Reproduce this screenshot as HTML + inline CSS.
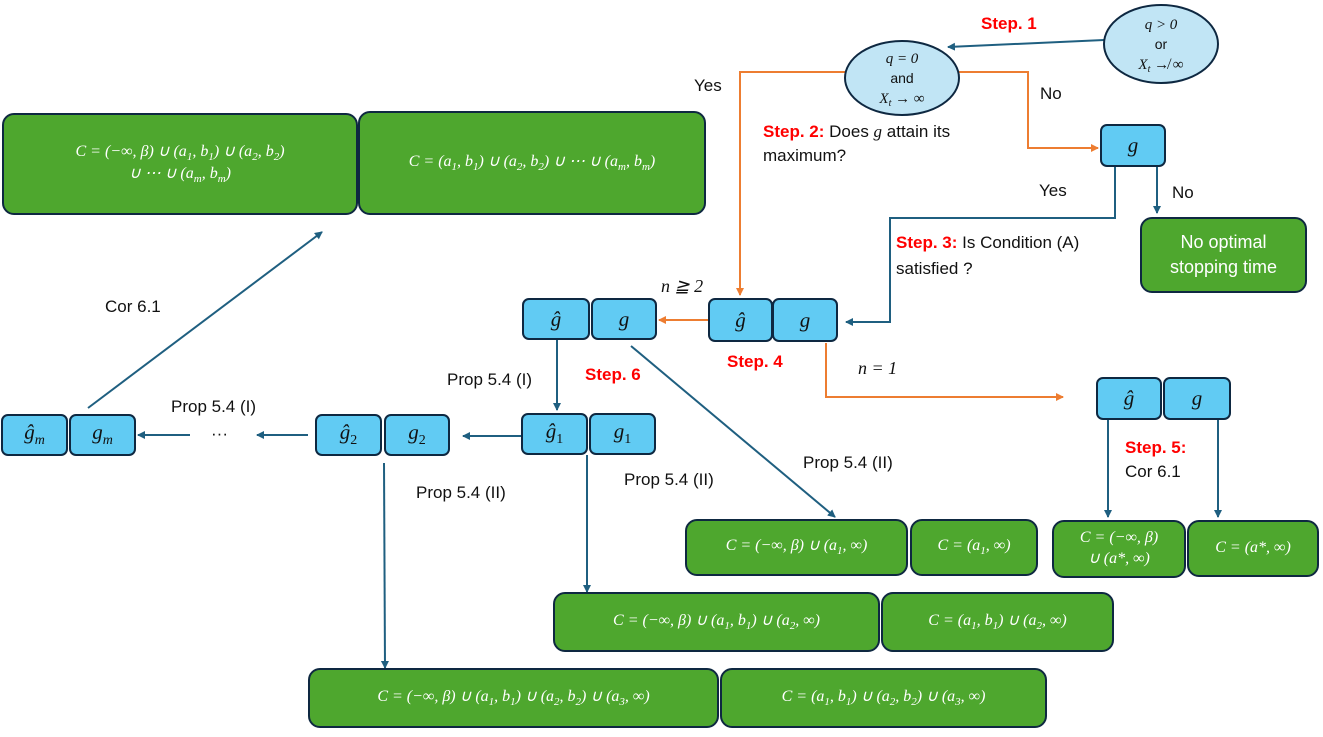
<!DOCTYPE html>
<html><head><meta charset="utf-8"><style>
body{margin:0;width:1323px;height:737px;background:#fff;position:relative;overflow:hidden;font-family:"Liberation Sans",sans-serif;}
.b{position:absolute;box-sizing:border-box;background:#61cbf3;border:2px solid #0e2841;border-radius:7px;display:flex;align-items:center;justify-content:center;font-family:"Liberation Serif",serif;font-style:italic;font-size:21px;color:#111;}
.gr{position:absolute;box-sizing:border-box;background:#4ea72e;border:2px solid #0e2841;border-radius:12px;display:flex;align-items:center;justify-content:center;text-align:center;color:#fff;font-family:"Liberation Serif",serif;font-style:italic;font-size:16px;line-height:1.3;}
sub{font-size:11px;}
.t{position:absolute;font-size:17px;color:#111;white-space:nowrap;}
.r{color:#f00;font-weight:bold;}
.m{font-family:"Liberation Serif",serif;font-style:italic;}
</style></head><body>
<svg width="1323" height="737" style="position:absolute;left:0;top:0">
<defs>
<marker id="ab" markerWidth="8" markerHeight="8" refX="7" refY="4" orient="auto" markerUnits="userSpaceOnUse"><path d="M0,0 L8,4 L0,8 z" fill="#1f5f80"/></marker>
<marker id="ao" markerWidth="8" markerHeight="8" refX="7" refY="4" orient="auto" markerUnits="userSpaceOnUse"><path d="M0,0 L8,4 L0,8 z" fill="#ed7d31"/></marker>
</defs>
<g fill="none" stroke="#1f5f80" stroke-width="2">
<path d="M1104,40 L948,47" marker-end="url(#ab)"/>
<path d="M1115,166 V218 H890 V322 H846" marker-end="url(#ab)"/>
<path d="M1157,166 V213" marker-end="url(#ab)"/>
<path d="M557,339 V410" marker-end="url(#ab)"/>
<path d="M631,346 L835,517" marker-end="url(#ab)"/>
<path d="M521,436 H463" marker-end="url(#ab)"/>
<path d="M308,435 H257" marker-end="url(#ab)"/>
<path d="M190,435 H138" marker-end="url(#ab)"/>
<path d="M88,408 L322,232" marker-end="url(#ab)"/>
<path d="M587,455 V592" marker-end="url(#ab)"/>
<path d="M384,463 L385,668" marker-end="url(#ab)"/>
<path d="M1108,420 V517" marker-end="url(#ab)"/>
<path d="M1218,420 V517" marker-end="url(#ab)"/>
</g>
<g fill="none" stroke="#ed7d31" stroke-width="2">
<path d="M845,72 H740 V295" marker-end="url(#ao)"/>
<path d="M959,72 H1028 V148 H1098" marker-end="url(#ao)"/>
<path d="M708,320 H659" marker-end="url(#ao)"/>
<path d="M826,343 V397 H1063" marker-end="url(#ao)"/>
</g>
<ellipse cx="1161" cy="44" rx="57" ry="39" fill="#c1e5f5" stroke="#0e2841" stroke-width="2"/>
<ellipse cx="902" cy="78" rx="57" ry="37" fill="#c1e5f5" stroke="#0e2841" stroke-width="2"/>
<g font-size="15" text-anchor="middle" fill="#111">
<text x="1161" y="29" font-family="Liberation Serif" font-style="italic">q &gt; 0</text>
<text x="1161" y="49" font-family="Liberation Sans" font-size="14">or</text>
<text x="1161" y="69" font-family="Liberation Serif" font-style="italic">X<tspan font-size="10" dy="3">t</tspan><tspan dy="-3"> ↛ ∞</tspan></text>
<text x="902" y="63" font-family="Liberation Serif" font-style="italic">q = 0</text>
<text x="902" y="83" font-family="Liberation Sans" font-size="14">and</text>
<text x="902" y="103" font-family="Liberation Serif" font-style="italic">X<tspan font-size="10" dy="3">t</tspan><tspan dy="-3"> → ∞</tspan></text>
</g>
</svg>

<div class="t r" style="left:981px;top:14px">Step. 1</div>
<div class="t" style="left:694px;top:76px">Yes</div>
<div class="t" style="left:1040px;top:84px">No</div>
<div class="t" style="left:763px;top:120px;line-height:24px"><span class="r">Step. 2:</span> Does <span class="m">g</span> attain its<br>maximum?</div>
<div class="t" style="left:1039px;top:181px">Yes</div>
<div class="t" style="left:1172px;top:183px">No</div>
<div class="t" style="left:896px;top:230px;line-height:26px"><span class="r">Step. 3:</span> Is Condition (A)<br>satisfied ?</div>
<div class="t m" style="left:661px;top:276px;font-size:18px">n ≧ 2</div>
<div class="t r" style="left:727px;top:352px">Step. 4</div>
<div class="t m" style="left:858px;top:358px;font-size:18px">n = 1</div>
<div class="t" style="left:105px;top:297px">Cor 6.1</div>
<div class="t" style="left:447px;top:370px">Prop 5.4 (I)</div>
<div class="t r" style="left:585px;top:365px">Step. 6</div>
<div class="t" style="left:171px;top:397px">Prop 5.4 (I)</div>
<div class="t" style="left:211px;top:424px">···</div>
<div class="t" style="left:803px;top:453px">Prop 5.4 (II)</div>
<div class="t" style="left:624px;top:470px">Prop 5.4 (II)</div>
<div class="t" style="left:416px;top:483px">Prop 5.4 (II)</div>
<div class="t" style="left:1125px;top:436px;line-height:24px"><span class="r">Step. 5:</span><br>Cor 6.1</div>

<div class="b" style="left:1100px;top:124px;width:66px;height:43px"><span>g</span></div>
<div class="gr" style="left:1140px;top:217px;width:167px;height:76px;font-family:'Liberation Sans',sans-serif;font-style:normal;font-size:18px;line-height:25px"><span>No optimal<br>stopping time</span></div>
<div class="gr" style="left:2px;top:113px;width:356px;height:102px"><span>C = (−∞, β) ∪ (a<sub>1</sub>, b<sub>1</sub>) ∪ (a<sub>2</sub>, b<sub>2</sub>)<br>∪ ⋯ ∪ (a<sub>m</sub>, b<sub>m</sub>)</span></div>
<div class="gr" style="left:358px;top:111px;width:348px;height:104px"><span>C = (a<sub>1</sub>, b<sub>1</sub>) ∪ (a<sub>2</sub>, b<sub>2</sub>) ∪ ⋯ ∪ (a<sub>m</sub>, b<sub>m</sub>)</span></div>

<div class="b" style="left:708px;top:298px;width:65px;height:44px"><span>ĝ</span></div>
<div class="b" style="left:772px;top:298px;width:66px;height:44px"><span>g</span></div>
<div class="b" style="left:522px;top:298px;width:68px;height:42px"><span>ĝ</span></div>
<div class="b" style="left:591px;top:298px;width:66px;height:42px"><span>g</span></div>
<div class="b" style="left:521px;top:413px;width:67px;height:42px"><span>ĝ<sub style="font-style:normal;font-size:14px">1</sub></span></div>
<div class="b" style="left:589px;top:413px;width:67px;height:42px"><span>g<sub style="font-style:normal;font-size:14px">1</sub></span></div>
<div class="b" style="left:315px;top:414px;width:67px;height:42px"><span>ĝ<sub style="font-style:normal;font-size:14px">2</sub></span></div>
<div class="b" style="left:384px;top:414px;width:66px;height:42px"><span>g<sub style="font-style:normal;font-size:14px">2</sub></span></div>
<div class="b" style="left:1px;top:414px;width:67px;height:42px"><span>ĝ<sub style="font-size:14px">m</sub></span></div>
<div class="b" style="left:69px;top:414px;width:67px;height:42px"><span>g<sub style="font-size:14px">m</sub></span></div>
<div class="b" style="left:1096px;top:377px;width:66px;height:43px"><span>ĝ</span></div>
<div class="b" style="left:1163px;top:377px;width:68px;height:43px"><span>g</span></div>

<div class="gr" style="left:685px;top:519px;width:223px;height:57px"><span>C = (−∞, β) ∪ (a<sub>1</sub>, ∞)</span></div>
<div class="gr" style="left:910px;top:519px;width:128px;height:57px"><span>C = (a<sub>1</sub>, ∞)</span></div>
<div class="gr" style="left:1052px;top:520px;width:134px;height:58px"><span>C = (−∞, β)<br>∪ (a*, ∞)</span></div>
<div class="gr" style="left:1187px;top:520px;width:132px;height:57px"><span>C = (a*, ∞)</span></div>
<div class="gr" style="left:553px;top:592px;width:327px;height:60px"><span>C = (−∞, β) ∪ (a<sub>1</sub>, b<sub>1</sub>) ∪ (a<sub>2</sub>, ∞)</span></div>
<div class="gr" style="left:881px;top:592px;width:233px;height:60px"><span>C = (a<sub>1</sub>, b<sub>1</sub>) ∪ (a<sub>2</sub>, ∞)</span></div>
<div class="gr" style="left:308px;top:668px;width:411px;height:60px"><span>C = (−∞, β) ∪ (a<sub>1</sub>, b<sub>1</sub>) ∪ (a<sub>2</sub>, b<sub>2</sub>) ∪ (a<sub>3</sub>, ∞)</span></div>
<div class="gr" style="left:720px;top:668px;width:327px;height:60px"><span>C = (a<sub>1</sub>, b<sub>1</sub>) ∪ (a<sub>2</sub>, b<sub>2</sub>) ∪ (a<sub>3</sub>, ∞)</span></div>
</body></html>
